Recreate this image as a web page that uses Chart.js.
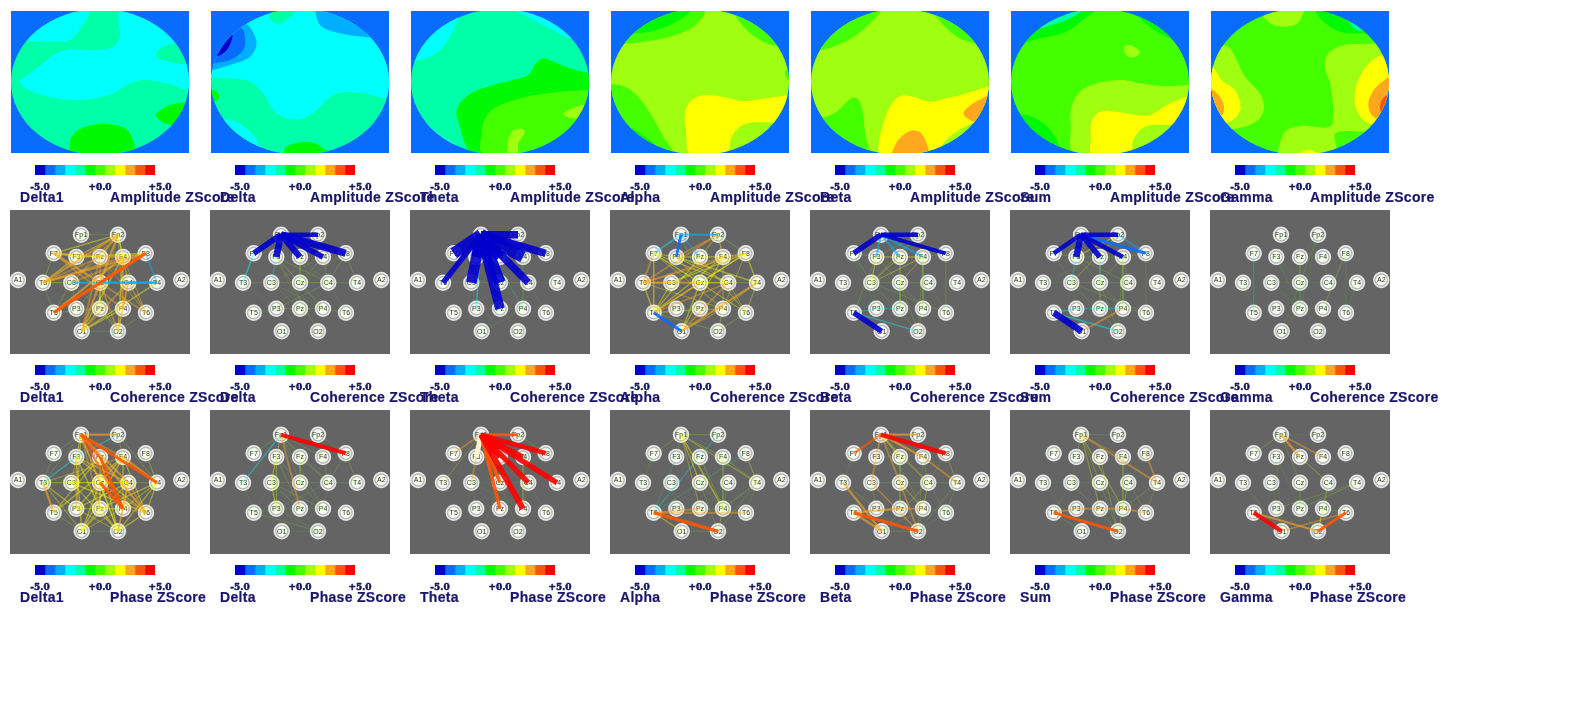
<!DOCTYPE html>
<html><head><meta charset="utf-8">
<script src="https://cdn.jsdelivr.net/npm/chart.js@4"></script>
<style>
html,body{margin:0;padding:0;background:#fff;width:1579px;height:709px;overflow:hidden}
canvas{position:absolute}
canvas.net{filter:blur(.45px)}
.t{position:absolute;font:bold 14px "Liberation Sans",Arial,sans-serif;letter-spacing:.3px;color:#1a1668;white-space:nowrap;line-height:16px;-webkit-text-stroke:.2px #1a1668}
</style></head><body>
<script>
// ---------- categories and labels ----------
const bands = ["Delta1","Delta","Theta","Alpha","Beta","Sum","Gamma"];
const measures = ["Amplitude ZScore","Coherence ZScore","Phase ZScore"];
const scaleEdges = [-5,-4.17,-3.33,-2.5,-1.67,-0.83,0,0.83,1.67,2.5,3.33,4.17,5];
const scaleTicks = [-5,0,5];
const scaleColors = ["#0000cd","#0a6cff","#00aeff","#00ffff","#00ffa8","#00f800","#44ff00","#a0ff10","#ffff00","#ffa81e","#ff5500","#ff0000"];

// ---------- electrodes ----------
const electrodes = ["Fp1","Fp2","F7","F3","Fz","F4","F8","A1","T3","C3","Cz","C4","T4","A2","T5","P3","Pz","P4","T6","O1","O2"];
const electrodeX = [71,108,43.7,66.3,90,113,135.7,8,33,61.3,90,118.3,147,171.3,43.7,66.3,90,113,136,71.7,108];
const electrodeY = [24.7,24.7,43.3,47,47,47,43.3,70,72.7,72.7,72.7,72.7,72.7,70,102.7,98.7,98.7,98.7,102.7,121.3,121.3];

// ---------- amplitude maps: [palette level, outline x,y,...] ----------
const mapDelta1 = [
 [4,[33,33,567,33,567,459,33,459]],
 [3,[57,243,110,205,170,160,210,148,290,150,340,140,360,110,362,33,567,33,567,262,500,250,430,240,385,252,340,280,270,298,190,298,110,280,70,260]],
 [4,[567,135,510,133,475,150,470,170,500,183,567,190]],
 [3,[100,33,265,33,245,80,210,120,150,125,85,122,60,90]],
 [5,[208,445,215,410,250,382,310,372,370,382,395,410,400,459,208,459]],
 [5,[567,305,510,315,470,340,470,352,500,372,567,370]]];
const mapDelta = [
 [4,[33,33,567,33,567,459,33,459]],
 [3,[33,235,80,235,150,245,190,280,220,330,250,352,300,358,350,330,390,290,430,277,490,280,567,287,567,33,33,33]],
 [4,[200,33,285,33,260,60,235,72,215,62]],
 [2,[33,212,90,195,150,170,170,130,155,90,135,70,110,80,33,130]],
 [1,[33,190,90,180,130,150,135,115,125,85,95,90,33,150]],
 [0,[45,172,65,140,97,103,90,135,70,160]],
 [2,[345,33,360,75,400,95,490,110,567,110,567,33]],
 [3,[33,360,100,362,150,395,180,438,180,459,33,459]],
 [5,[33,268,50,275,58,290,50,302,33,300]],
 [5,[250,459,260,440,300,427,340,428,378,450,385,459]]];
const mapTheta = [
 [4,[33,33,567,33,567,459,33,459]],
 [3,[170,33,175,55,160,90,130,140,90,170,50,182,33,190,33,33]],
 [3,[350,33,400,60,450,85,510,115,567,120,567,33]],
 [3,[33,330,70,360,120,405,170,440,100,459,33,459]],
 [5,[567,220,510,205,460,185,430,175,405,195,385,225,340,240,270,258,205,285,170,330,180,380,195,430,215,459,567,459]],
 [6,[567,270,480,275,380,290,290,320,255,355,245,400,250,459,567,459]],
 [7,[567,312,530,320,490,340,500,350,530,355,567,352]],
 [7,[322,459,325,420,340,392,365,387,375,397,355,430,352,459]]];
const mapAlpha = [
 [7,[33,33,567,33,567,459,33,459]],
 [6,[33,135,130,125,210,110,280,80,312,33,33,33]],
 [5,[85,100,150,95,220,70,268,33,85,33]],
 [6,[395,33,440,90,490,125,530,138,567,138,567,33]],
 [6,[567,205,555,215,560,235,567,240]],
 [6,[33,252,70,258,110,285,150,340,190,410,215,459,33,459]],
 [5,[33,345,70,370,120,400,170,445,33,459]],
 [8,[567,285,500,295,430,303,380,293,315,285,275,300,255,340,258,390,270,459,380,459,395,410,435,372,520,368,567,370]]];
const mapBeta = [
 [7,[33,33,567,33,567,459,33,459]],
 [6,[33,33,240,33,220,60,170,105,100,140,60,150,33,150]],
 [6,[395,33,440,85,490,120,567,130,567,33]],
 [6,[33,355,60,355,110,335,150,297,170,295,185,320,195,400,200,459,33,459]],
 [8,[567,258,500,280,440,295,390,305,340,290,300,288,270,320,250,370,235,440,240,459,420,459,430,430,470,395,520,370,567,370]],
 [9,[275,459,295,420,330,393,360,397,380,430,382,459]],
 [9,[567,285,520,310,490,340,510,360,540,367,567,340]]];
const mapSum = [
 [6,[33,33,567,33,567,459,33,459]],
 [5,[33,33,280,33,255,55,200,95,120,115,65,130,33,130]],
 [4,[90,95,140,80,200,60,240,33,90,33]],
 [5,[395,33,450,80,510,115,567,125,567,33]],
 [5,[33,345,80,345,130,370,165,410,180,445,180,459,33,459]],
 [7,[372,140,385,135,410,145,420,160,395,173,375,160]],
 [7,[567,255,490,258,420,250,370,240,290,250,240,275,215,320,212,380,225,459,567,459]],
 [8,[567,287,510,310,450,345,410,345,350,335,300,335,275,365,272,420,275,459,390,459,400,420,435,380,510,375,567,375]]];
const mapGamma = [
 [6,[33,33,567,33,567,459,33,459]],
 [7,[190,50,215,72,255,80,290,72,305,50,310,33,200,33]],
 [5,[345,33,370,65,420,95,490,100,520,95,490,70,420,33]],
 [4,[410,33,440,60,470,90,510,85,480,33]],
 [7,[33,140,85,140,110,180,135,230,180,280,192,325,175,360,115,385,33,385]],
 [8,[33,185,65,240,105,270,122,320,105,355,75,370,33,370]],
 [9,[33,265,60,290,72,320,65,345,33,345]],
 [7,[567,125,505,132,435,135,385,160,375,200,390,250,400,340,390,380,305,378,255,395,235,450,235,459,405,459,407,400,485,395,567,395]],
 [8,[300,459,325,450,350,459]],
 [8,[567,160,525,175,485,220,463,290,475,340,505,370,567,375]],
 [9,[567,230,525,265,505,310,515,345,540,360,567,360]],
 [10,[567,280,545,300,540,330,555,345,567,345]]];

// ---------- coherence z-scores: "from to z" ----------
const cohDelta1 = ["Fp2 F7 2","Fp2 F3 2","Fp2 Fz 2.3","Fp2 F4 2.2","Fp2 T3 3","Fp2 C3 2.5","Fp2 Cz 3","Fp2 C4 2","Fp2 Pz 1.5","Fp2 P4 1.7","Fp1 F4 1.2","Fp1 F3 1","Fp1 Fz 1","Fp1 Fp2 1","F7 Fz 2","F7 F3 2","F7 F4 2.7","F7 Cz 3","F7 P4 2.7","F7 T3 1.6","F3 F8 2.2","F3 Fz 1.8","Fz F4 1.8","F4 F8 2","F8 T5 3.8","F8 T3 3","F8 C3 2.7","F8 Cz 3","F8 T4 -2.8","C3 T4 -3","Cz T4 -3.1","C4 T4 -3","T3 F3 2","T3 Fz 2.6","T3 F4 2.6","T3 C3 1","T3 T5 1","T3 Cz 1.5","T5 F4 3","T5 Cz 3","T5 C3 1.6","T5 Pz 1.5","O1 Cz 3","O1 C4 2.7","O1 F4 2.4","O1 Fz 2.6","O1 Pz 2","O1 P4 2.2","O1 O2 1","O1 T4 2.3","O1 P3 1","O2 Cz 2.7","O2 C4 2.6","O2 F4 2.4","O2 P4 2","O2 Pz 1.8","O2 T6 1","O2 F3 1.6","T6 Cz 2.6","T6 C4 2.6","T6 F4 1.7","T6 Fz 1.7","P4 F4 2.6","Pz Fz 2","P4 C4 2.6","Pz Cz 1.8","P3 C3 1.4","C3 Pz 1.4","C3 Fz 1.5","Fz C4 1.6","F3 Cz 1.6","P3 Cz 1.5"];
const cohDelta = ["Fp1 Fp2 -4.5","Fp1 F7 -5.2","Fp1 F3 -5.6","Fp1 Fz -5.4","Fp1 F4 -5","Fp1 F8 -5.8","F7 T3 -2.5","F3 C3 -1.9","F3 Cz 1.2","F3 C4 1.3","F3 Pz 0.9","F3 P4 1","F3 O2 1","Fz Cz 1","Fz C4 0.9","Fz P4 0.8","F4 Cz 1","F4 C4 1","F4 C3 0.9","F8 C4 1.1","F8 T4 1","F8 Cz 0.9","C3 Cz 1.4","Cz C4 1.5","C4 T4 1","T3 C3 1","C3 Pz 0.8","C3 P4 0.9","Cz P3 0.9","Cz P4 0.9","C4 P3 1","C4 T6 0.8","P3 Pz 1.2","Pz P4 1.2","P4 T6 1.2","P3 O1 0.7","T3 P3 0.7","T5 P3 0.7","Pz O1 0.7"];
const cohTheta = ["Fp1 Fp2 -6","Fp1 F7 -7.5","Fp1 F3 -7","Fp1 Fz -7","Fp1 F4 -7.5","Fp1 F8 -6","Fp1 T3 -5","Fp1 C3 -7.2","Fp1 Cz -7.5","Fp1 C4 -6","Fp1 Pz -6.8","Fp1 P3 -2.3","Fp1 P4 -1.6","C3 Cz 1","Cz C4 1","C4 T4 0.7","T3 C3 0.8","F4 Cz 0.8","F4 P4 0.8","C3 P3 -1.2","Pz P4 0.7","P3 Pz 0.7","Cz P4 0.7","C4 T6 0.6","Pz O1 0.6","P4 O1 0.6","Pz O2 0.6"];
const cohAlpha = ["Fp1 Fp2 -3","Fp1 F7 -2.5","Fp1 F3 -3.5","Fp1 Fz -2.6","Fp1 Cz -1.6","T5 O1 -3.5","F7 T3 2.8","F7 T5 2.3","T3 T5 2.3","F7 F3 2","F3 Fz 2","Fz F4 2.2","F4 F8 2","F8 T4 2.2","T4 T6 1.8","T3 F4 2.5","T3 F8 2.5","T3 C3 3","C3 Cz 2.9","Cz C4 2","C4 T4 1.5","T5 Cz 2.6","T5 C4 2.5","T5 F4 2.2","T5 F8 2.3","T5 Fz 2","T5 C3 2","O1 T4 3","O1 C4 2.6","O1 Cz 2.2","O1 F4 2","O1 P4 1.8","O2 P4 1.8","O2 T6 1.6","O2 T5 1.5","T6 Fz 1.8","T6 Cz 1.7","T6 C4 1.7","F3 T4 2.3","F3 C4 2","F3 Cz 1.8","Fp2 F3 2.5","Fp2 T3 2.5","Fp2 F4 2","Fp2 Fz 1.8","Fp2 F8 1.6","F7 Cz 2","F7 C4 2","F7 T6 1.6","F7 P4 1.8","C3 F8 2.1","C3 F4 2","Cz F8 2","P4 F4 1.8","P4 T4 1.8","P4 F8 1.7","Pz T5 1.4","P4 T5 1.7","T3 P4 1.8","T3 C4 1.9"];
const cohBeta = ["Fp1 Fp2 -4.5","Fp1 F7 -5","Fp1 F3 -3","Fp1 Fz -3","Fp1 F4 -3","Fp1 F8 -4.2","T5 O1 -5","T5 P3 -1.8","P3 Pz -1.8","T5 O2 -2","F3 Fz 2","Fz F4 2","F7 F3 1.3","F3 C3 2","Fz C3 1.7","F4 Cz 1.7","F4 C3 1.8","Fp2 C3 1.6","Fp2 F3 1.4","Fp2 F4 1.5","Fp2 Fz 1.3","F4 F8 1.3","F3 Cz 1.2","F3 T5 1","F7 C3 1","C3 Cz 1.3","Cz C4 1","C3 T6 1.1","C3 O2 1.2","Cz O2 1.2","Cz P4 1","F4 P4 1.3","F4 O2 1.4","F8 T6 1","C4 T6 0.9","P4 O2 1","C3 P3 0.8","Fz Pz 1","Cz Pz 0.8","C3 T5 0.8","F7 P3 0.7"];
const cohSum = ["Fp1 Fp2 -4.5","Fp1 F7 -4.5","Fp1 F3 -5.5","Fp1 Fz -5","Fp1 F4 -4.6","Fp1 F8 -3.6","Fp2 F8 -2.7","T5 O1 -5.6","T5 O2 -2.3","T5 P3 -2","P3 Pz -1.8","Pz P4 -1.8","F3 C3 -1.8","Fz Cz -1.8","Fp2 F3 2","Fp2 Fz 1.6","Fp2 F4 1.4","Fp2 C3 1.7","O1 P4 2.8","P4 T6 1.3","F3 Fz 1.4","Fz F4 1.4","F7 F3 1","F4 F8 1","C3 Cz 1.3","Cz C4 1","F3 C4 1.2","F3 Cz 1","F4 Cz 1.2","F4 C4 1","F4 P4 1.2","C3 T6 1.1","F8 T6 0.9","F7 C3 0.9","T3 C3 0.8","T3 Fz 0.8","C3 P3 0.8","Cz O2 1","Cz P4 1","C3 O2 1","F4 O2 1","Fz Pz 0.9"];
const cohGamma = ["F8 P4 1.5","Fp2 Cz 1","Fp2 Fz 0.8","Fz Cz 0.9","Fp2 Pz 0.7","F3 Pz 0.7","C3 Pz 0.7","C3 Cz 0.5","Cz C4 0.5","Cz Pz 0.7","Cz O1 0.7","Pz O1 0.8","Pz P4 0.6","P4 O2 0.7","F7 T5 0.4","F8 T6 0.4","T4 T6 0.4","T3 T5 0.4","F3 Cz 0.6","F4 C4 0.6"];

// ---------- phase z-scores ----------
const phaseDelta1 = ["Fp1 Fp2 3","Fp1 T4 3.6","Fp1 C4 3","Fp1 P4 3.4","Fp1 Cz 2.8","Fp1 Fz 3.4","Fp1 F4 2.6","Fp1 T6 3","Fp1 Pz 2.6","Fp1 P3 2","Fp1 O2 2","Fp1 F3 2","Fp1 F7 1.4","Fp1 T3 1.1","Fp2 F3 -2","F3 T3 -2","Fp2 F4 1.5","Fp2 T4 1.6","F4 T4 3","F8 T4 1.8","F7 T3 1","Cz P4 3.5","Fz P4 3.5","T3 T5 3","T3 P3 2","T3 Cz 1.5","T3 C3 1.5","T3 O1 1.8","T3 F4 1.8","F3 P3 2.5","F3 Pz 2.4","F3 O1 2.2","F3 C4 2.2","F3 T6 2.2","F3 C3 1.8","Fz O2 2.3","Fz T5 2","Fz C3 2","Fz Pz 2.4","F4 T5 2.4","F4 P3 2.4","F4 O1 2.4","F4 P4 2.2","F4 T6 2","C3 C4 2","C3 T6 2.4","C3 O2 2","Cz C4 1.8","Cz O1 2.4","Cz O2 2.4","Cz T6 2.6","C4 T4 1.5","C4 P4 2.2","C4 T6 2.6","C4 O1 2","C4 O2 2.6","C4 P3 2.2","T4 T6 2","T4 P4 1.9","T4 O2 2","T4 Pz 2.3","T5 P3 1.2","T5 O1 1.5","P3 Pz 1.8","Pz P4 2","P4 T6 2.5","P3 O2 1.8","Pz O1 2","Pz O2 2.2","P4 O1 1.9","P4 O2 2.5","O1 O2 1.2","O2 T6 2.4"];
const phaseDelta = ["Fp1 F8 4.3","Fp1 T3 -2","Fp1 F3 1.9","Fp1 Pz 2.7","Fp1 Cz 1.2","Fp1 C4 1.1","Fp1 P4 1","Fp1 F4 1","Fp1 Fz 1","Fp1 F7 1","Fp2 F8 0.9","Fp2 F4 0.8","F3 C3 2","F3 P3 1.3","C3 P3 2","F3 Pz 1.1","F3 P4 1.2","Fz Cz 1","Fz C4 1","F4 C4 1","F8 C4 1.4","F8 T4 1","C4 T4 1","C3 Cz 1.1","Cz C4 1","C3 Pz 1.3","C3 P4 1.1","C3 T5 0.7","C4 P3 0.9","C4 P4 0.8","Cz P3 1","T3 T5 0.6","T5 O2 1","O1 O2 0.7","P3 O2 0.9","Pz O2 0.8","P3 P4 0.7","T5 P3 0.7"];
const phaseTheta = ["Fp1 Fp2 3.5","Fp1 F7 2.6","Fp1 T3 1.5","Fp1 C3 2.6","Fp1 Fz 4.5","Fp1 F4 4.7","Fp1 F8 4.6","Fp1 T4 4.9","Fp1 C4 5","Fp1 Cz 4","Fp1 Pz 3.9","Fp1 P4 5.2","Fp1 F3 null","Fp2 F8 1","F4 P4 1","C3 P3 0.9","C3 Cz 0.6","Cz C4 0.6","Fz C4 1","F4 T4 0.8","C3 P4 0.7","Cz O1 0.7","Cz O2 0.8","C4 T6 0.7","C4 P4 0.9"];
const phaseAlpha = ["Fp1 Fp2 1.5","Fp1 F7 1","Fp1 T4 1.9","Fp1 Cz 2","Fp1 Pz 1.8","Fp1 P4 2.3","Fp1 F4 1.6","Fp1 F3 1.1","Fp2 T5 -1.8","F8 T5 -1.5","F3 T5 -1","T5 O2 3.8","T5 T6 2.8","T5 O1 2","O1 O2 1","F4 T4 1.5","F8 T4 1.8","T4 P4 1.6","P4 T6 1.1","T4 T6 0.9","T4 O2 1","P4 O2 1.6","Fz P4 1.6","T5 Pz 2.6","T5 P4 1.4","Cz O2 1.1","C4 P4 0.9","F4 P4 1.1","Fp2 F4 0.8","C4 O2 0.9","F7 T3 0.5","Cz P4 1","C3 O1 0.8"];
const phaseBeta = ["Fp1 F8 4.5","Fp1 F7 3.4","Fp1 Fp2 3","Fp1 F4 3.2","Fp1 F3 2.8","F3 C3 2.7","Fp1 Cz 2.7","Fp1 C4 1.9","Fp1 Fz 2","F4 T4 2.9","F8 T4 1.6","C4 T4 1.3","F4 C4 1.2","F8 C4 1.3","Fp1 P4 1.3","F3 F8 0.7","T3 O1 3","T5 O1 3.1","T5 O2 3.7","T5 Pz 3","Pz P4 2.6","T3 P3 1.4","Cz O2 2.7","C3 O2 2.5","Cz P4 1.9","C4 P4 1.8","C4 O1 1.6","C3 Cz 1","Cz C4 1.1","Fz C4 1.3","Fz Pz 1.3","C3 P3 1.3","P4 O1 1.3","P4 O2 1.4","P4 T6 0.9","C4 T6 1","O1 O2 1","T6 O2 0.9","T4 O2 1.4","T4 T6 1","C3 T5 0.8","F7 T3 0.5","F4 O2 1.2"];
const phaseSum = ["Fp1 T4 2.9","F8 T4 2.7","T5 P3 2.7","P3 Pz 2.9","Pz P4 2.9","P4 T6 2.9","T5 O2 3.5","Fp1 P4 1.9","Fp1 Pz 1.9","Fp1 Cz 1.6","Fp1 F3 1.4","Fp1 Fp2 1.1","Fp1 F4 1.5","Fp1 C3 0.8","Fz O2 1.5","Cz O2 1.3","P4 C4 1.5","P4 T4 1.1","P4 O2 1.1","T4 T6 1","C4 T6 1.1","C4 O2 1.1","C3 O2 1.1","C3 T5 0.9","T3 O1 0.8","T5 O1 1.1","F4 C4 0.8","F4 P4 1.2","F8 C4 0.8","T3 C3 0.6","C3 Cz 0.7","Cz P4 1"];
const phaseGamma = ["Fp1 F7 1.5","Fp1 Fz 3.1","Fp1 F4 2.6","Fp1 Fp2 0.5","Fz C4 1.7","Fp1 Cz 1","T5 O1 4.4","T5 O2 3","O2 T6 3.5","O1 T6 2.5","T3 O1 0.9","T4 Pz 1.5","T4 P3 1","P4 O2 2","P4 C4 1.3","C4 O2 1","P4 T6 1","Pz O2 1","F3 O1 0.6","C3 O1 0.5","F3 Pz 0.5","Cz Pz 0.5"];

const mapSets = [mapDelta1,mapDelta,mapTheta,mapAlpha,mapBeta,mapSum,mapGamma];
const cohSets = [cohDelta1,cohDelta,cohTheta,cohAlpha,cohBeta,cohSum,cohGamma];
const phaseSets = [phaseDelta1,phaseDelta,phaseTheta,phaseAlpha,phaseBeta,phaseSum,phaseGamma];

// ---------- layout ----------
const COL = 200, ROW = 200;
Chart.defaults.animation = false;
Chart.defaults.responsive = false;
Chart.defaults.devicePixelRatio = 1;

function canvas(x,y,w,h,cls){
  const c=document.createElement('canvas');
  c.width=w;c.height=h;c.style.left=x+'px';c.style.top=y+'px';c.style.width=w+'px';c.style.height=h+'px';
  if(cls)c.className=cls;
  document.body.appendChild(c);return c.getContext('2d');
}
function label(x,y,s){
  const d=document.createElement('div');d.className='t';d.style.left=x+'px';d.style.top=y+'px';d.textContent=s;
  document.body.appendChild(d);
}
const hiddenAxis=(min,max,reverse)=>({type:'linear',min,max,reverse:!!reverse,display:false});
const noExtras={legend:{display:false},tooltip:{enabled:false},title:{display:false}};

// ---- amplitude head map ----
const headClip={id:'headClip',
  beforeDraw(ch){const c=ch.ctx;c.save();c.fillStyle='#0a6cff';c.fillRect(0,0,ch.width,ch.height);c.restore();},
  beforeDatasetsDraw(ch){const c=ch.ctx,s=ch.scales;c.save();c.beginPath();
    c.ellipse(s.x.getPixelForValue(300),s.y.getPixelForValue(246),178/2,218.5/3,0,0,Math.PI*2);c.clip();},
  afterDatasetsDraw(ch){ch.ctx.restore();}};
function drawMap(ctx,zones){
  const n=zones.length;
  new Chart(ctx,{type:'scatter',data:{datasets:zones.map(([lv,p],i)=>{
      const pts=[];for(let k=0;k<p.length;k+=2)pts.push({x:p[k],y:p[k+1]});pts.push({x:p[0],y:p[1]});
      return {data:pts,showLine:true,fill:'shape',tension:.35,borderWidth:0,pointRadius:0,backgroundColor:scaleColors[lv],order:n-i};
    })},
    options:{layout:{padding:0,autoPadding:false},scales:{x:hiddenAxis(33,567),y:hiddenAxis(33,459,true)},plugins:noExtras},
    plugins:[headClip]});
}

// ---- electrode network ----
function levelOf(z){return Math.max(0,Math.min(11,Math.floor((z+5)/10*12)));}
function strokeFor(z){
  if(z===null) return {c:'#fff4d0',w:5};
  const a=Math.abs(z),w=Math.max(.8,.2*z*z+.4);
  const alpha=a<1?.14:a<1.5?.22:a<2?.3:a<3?.42:a<3.5?.6:.9;
  const hex=scaleColors[levelOf(z)];
  const r=parseInt(hex.slice(1,3),16),g=parseInt(hex.slice(3,5),16),b=parseInt(hex.slice(5,7),16);
  return {c:`rgba(${r},${g},${b},${alpha})`,w};
}
const panelBg={id:'panelBg',
  beforeDraw(ch){const c=ch.ctx;c.save();c.fillStyle='#646464';c.fillRect(0,0,ch.width,ch.height);c.restore();},
  afterDatasetDraw(ch,args){ if(args.index!==1)return;
    const c=ch.ctx,s=ch.scales;c.save();c.fillStyle='#1c2a1c';c.font='7px "Liberation Sans",Arial,sans-serif';c.textAlign='center';c.textBaseline='middle';
    electrodes.forEach((e,i)=>c.fillText(e,s.x.getPixelForValue(electrodeX[i]),s.y.getPixelForValue(electrodeY[i])+.5));
    c.restore();}};
function drawNet(ctx,list){
  const nodes=electrodes.map((e,i)=>({x:electrodeX[i],y:electrodeY[i]}));
  const parsed=list.map(s=>{const [a,b,z]=s.split(' ');return {a,b,z:z==='null'?null:+z};})
    .sort((p,q)=>(p.z===null?3:Math.abs(p.z))-(q.z===null?3:Math.abs(q.z)));
  const n=parsed.length;
  const links=parsed.map((p,i)=>{const st=strokeFor(p.z);
    return {data:[nodes[electrodes.indexOf(p.a)],nodes[electrodes.indexOf(p.b)]],showLine:true,borderColor:st.c,borderWidth:st.w,pointRadius:0,order:n-i};});
  new Chart(ctx,{type:'scatter',data:{datasets:[
      {data:nodes,pointRadius:8.2,pointBorderWidth:0,pointBackgroundColor:'rgba(240,240,240,.95)',order:n+3},
      {data:nodes,pointRadius:6,pointBorderWidth:1.3,pointBorderColor:'#b8b8b8',pointBackgroundColor:'#fbfff4',order:n+2},
      ...links]},
    options:{layout:{padding:0,autoPadding:false},scales:{x:hiddenAxis(0,180),y:hiddenAxis(0,144,true)},plugins:noExtras},
    plugins:[panelBg]});
}

// ---- colour scale ----
function drawScale(ctx){
  new Chart(ctx,{type:'bar',data:{labels:['z'],datasets:scaleColors.map((c,i)=>({data:[[scaleEdges[i],scaleEdges[i+1]]],backgroundColor:c,grouped:false,barPercentage:1,categoryPercentage:1,borderWidth:0}))},
    options:{indexAxis:'y',layout:{padding:{left:22,right:22,top:0,bottom:0}},
      scales:{y:{type:'category',display:false},
        x:{type:'linear',min:-5,max:5,grid:{display:false,drawTicks:false},border:{display:false},
           afterFit(s){s.height=20;},
           afterBuildTicks(s){s.ticks=scaleTicks.map(v=>({value:v}));},
           ticks:{autoSkip:false,maxRotation:0,padding:7,labelOffset:5,color:'#14145a',textStrokeColor:'#14145a',textStrokeWidth:.5,font:{family:'"DejaVu Serif"',weight:'bold',size:9},
             callback:v=>(v<0?'':'+')+v.toFixed(1)}}},
      plugins:noExtras}});
}

// ---------- build page ----------
bands.forEach((b,c)=>{
  const x=c*COL;
  drawMap(canvas(x+11,11,178,142),mapSets[c]);
  drawNet(canvas(x+10,ROW+10,180,144,'net'),cohSets[c]);
  drawNet(canvas(x+10,2*ROW+10,180,144,'net'),phaseSets[c]);
  for(let r=0;r<3;r++){
    drawScale(canvas(x+35-22,r*ROW+165,164,30));
    label(x+20,r*ROW+189,b);
    label(x+110,r*ROW+189,measures[r]);
  }
});
</script>
</body></html>
